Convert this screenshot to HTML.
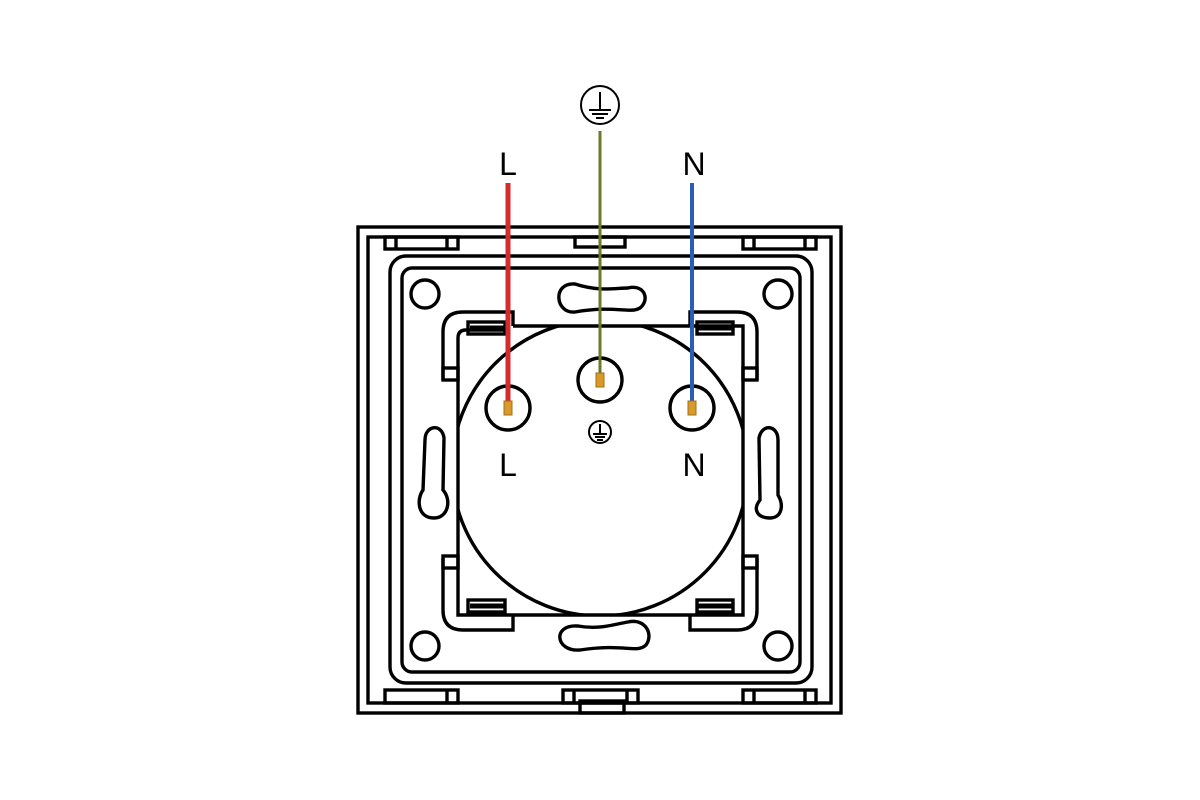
<!DOCTYPE html>
<html><head><meta charset="utf-8"><style>
html,body{margin:0;padding:0;background:#fff;}
svg{display:block;}
text{font-family:"Liberation Sans",sans-serif;}
</style></head><body>
<svg width="1200" height="800" viewBox="0 0 1200 800" xmlns="http://www.w3.org/2000/svg">
<defs>
<clipPath id="rc"><rect x="458" y="326" width="285" height="289"/></clipPath>
</defs>
<g fill="none" stroke="#000" stroke-width="3.4">
<rect x="358" y="227" width="483" height="486"/>
<rect x="368" y="237" width="463" height="466"/>
<rect x="385" y="237" width="73" height="12"/>
<line x1="396" y1="237" x2="396" y2="249"/><line x1="447" y1="237" x2="447" y2="249"/>
<rect x="743" y="237" width="73" height="12"/>
<line x1="754" y1="237" x2="754" y2="249"/><line x1="805" y1="237" x2="805" y2="249"/>
<rect x="575" y="237" width="50" height="10"/>
<rect x="385" y="690" width="73" height="13"/>
<line x1="447" y1="690" x2="447" y2="703"/>
<rect x="743" y="690" width="73" height="13"/>
<line x1="754" y1="690" x2="754" y2="703"/><line x1="805" y1="690" x2="805" y2="703"/>
<rect x="563" y="690" width="75" height="13"/>
<line x1="574" y1="690" x2="574" y2="703"/><line x1="627" y1="690" x2="627" y2="703"/>
<rect x="580" y="701" width="44" height="12"/>
<rect x="390" y="256" width="422" height="427" rx="16"/>
<rect x="402" y="268" width="398" height="404" rx="10"/>
<circle cx="425" cy="294" r="14"/><circle cx="778" cy="294" r="14"/>
<circle cx="425" cy="646" r="14"/><circle cx="778" cy="646" r="14"/>
<path d="M575 284 C600 292 615 288 628 288 C645 284 650 300 640 308 C630 314 615 305 575 312 C555 314 552 282 575 284 Z"/>
<path d="M578 626 C600 630 615 624 628 622 C645 618 654 634 646 645 C636 654 625 643 580 650 C555 652 552 624 578 626 Z"/>
<path d="M425 440 C425 425 442 423 444 438 L443 490 C452 500 448 518 434 518 C418 518 416 500 423 490 Z"/>
<path d="M778 440 C778 425 762 423 759 438 L760 500 C752 510 758 518 770 518 C782 518 784 505 778 495 Z"/>
<path d="M505 330 L466 330 Q458 330 458 338 L458 615 L743 615 L743 326 L513 326"/>
<circle cx="600" cy="468" r="148" clip-path="url(#rc)"/>
<path d="M443 380 L443 332 Q443 312 463 312 L513 312 L513 326"/>
<rect x="443" y="368" width="15" height="12"/>
<rect x="468" y="322" width="37" height="12"/>
<path d="M757 380 L757 332 Q757 312 737 312 L690 312 L690 326"/>
<rect x="743" y="368" width="14" height="12"/>
<rect x="697" y="322" width="36" height="12"/>
<path d="M443 558 L443 610 Q443 630 463 630 L513 630 L513 615"/>
<rect x="443" y="556" width="15" height="12"/>
<rect x="468" y="600" width="37" height="12"/>
<path d="M757 558 L757 610 Q757 630 737 630 L690 630 L690 615"/>
<rect x="743" y="556" width="14" height="12"/>
<rect x="697" y="600" width="36" height="12"/>
<circle cx="508" cy="408" r="22"/><circle cx="600" cy="380" r="22"/><circle cx="692" cy="408" r="22"/>
</g>
<g stroke="#000" stroke-width="5">
<line x1="470" y1="328" x2="504" y2="328"/><line x1="698" y1="328" x2="732" y2="328"/>
<line x1="470" y1="606" x2="504" y2="606"/><line x1="698" y1="606" x2="732" y2="606"/>
</g>
<g fill="none" stroke="#000" stroke-width="2">
<circle cx="600" cy="432" r="11"/>
<line x1="600" y1="424" x2="600" y2="434"/><line x1="593" y1="434" x2="607" y2="434"/><line x1="595" y1="437" x2="605" y2="437"/><line x1="597" y1="440" x2="603" y2="440"/>
<circle cx="600" cy="105" r="19"/>
<line x1="600" y1="92" x2="600" y2="110"/><line x1="589" y1="110" x2="611" y2="110"/><line x1="592" y1="114" x2="608" y2="114"/><line x1="596" y1="118" x2="604" y2="118"/>
</g>
<line x1="508" y1="183" x2="508" y2="408" stroke="#d42b2b" stroke-width="5"/>
<line x1="600" y1="131" x2="600" y2="380" stroke="#6b7a2a" stroke-width="3"/>
<line x1="692" y1="183" x2="692" y2="408" stroke="#2a5db5" stroke-width="4"/>
<g fill="#d99a2a" stroke="#a0701a" stroke-width="1">
<rect x="504" y="401" width="8" height="14"/><rect x="596" y="373" width="8" height="14"/><rect x="688" y="401" width="8" height="14"/>
</g>
<g font-size="32" fill="#000" text-anchor="middle">
<text x="508" y="175">L</text><text x="694" y="175">N</text>
<text x="508" y="476">L</text><text x="694" y="476">N</text>
</g>
</svg>
</body></html>
